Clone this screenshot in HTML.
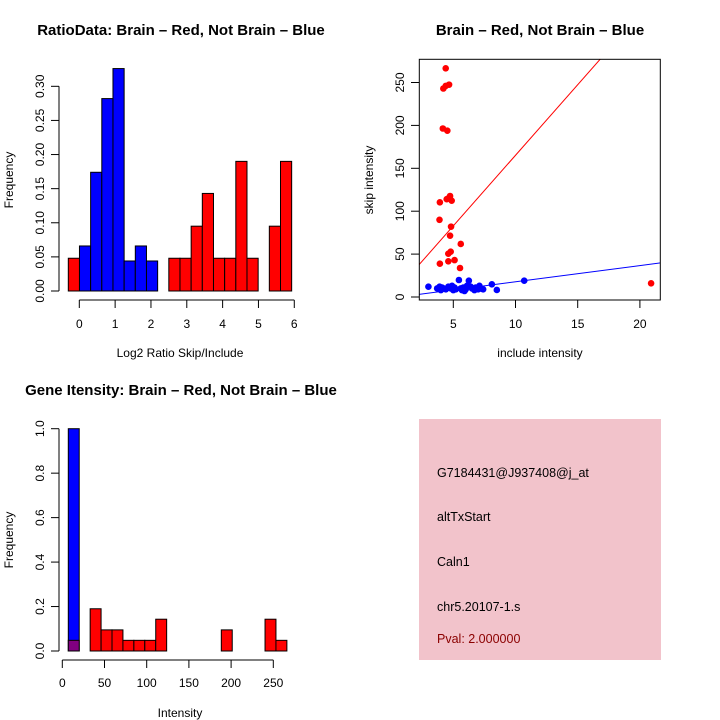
<!DOCTYPE html>
<html><head><meta charset="utf-8"><style>
html,body{margin:0;padding:0;background:#fff;}
svg{display:block;font-family:"Liberation Sans",sans-serif;}
</style></head><body>
<svg id="c" width="720" height="720" viewBox="0 0 720 720">
<rect width="720" height="720" fill="#fff"/>
<g id="p1"></g>
<g id="p2"></g>
<g id="p3"></g>
<g id="p4">
<rect x="419" y="419" width="242" height="241" fill="#f2c3cb"/>
<text x="437" y="477" font-size="12.5">G7184431@J937408@j_at</text>
<text x="437" y="521" font-size="12.5">altTxStart</text>
<text x="437" y="566" font-size="12.5">Caln1</text>
<text x="437" y="611" font-size="12.5">chr5.20107-1.s</text>
<text x="437" y="643" font-size="12.5" fill="#8b0000">Pval: 2.000000</text>
</g>
</svg>
<script>
// ---- Plot 1 data ----
const ratioBinStart = -0.307;
const ratioBinWidth = 0.3117;
const ratioValues = [0.048,0.066,0.174,0.282,0.326,0.044,0.066,0.044,0,0.048,0.048,0.095,0.143,0.048,0.048,0.19,0.048,0,0.095,0.19];
const ratioColors = ["red","blue","blue","blue","blue","blue","blue","blue","none","red","red","red","red","red","red","red","red","none","red","red"];
const ratioXTicks = [0,1,2,3,4,5,6];
const ratioYTicks = ["0.00","0.05","0.10","0.15","0.20","0.25","0.30"];
// ---- Plot 2 data ----
const redX = [4.39,4.2,4.39,4.66,4.16,4.52,3.92,3.89,4.6,4.74,4.87,4.47,4.82,4.74,5.6,4.79,4.6,3.92,4.6,5.1,5.54,20.9];
const redY = [266.5,243,246,247.5,196.4,193.8,110.4,90,115,117.7,112.3,114,82,71.5,61.8,52.8,50.5,38.8,41.6,43,33.8,16];
const blueX = [3.0,3.7,3.9,4.0,4.1,4.2,4.4,4.6,4.7,4.8,4.9,5.0,5.1,5.2,5.45,5.6,5.7,5.8,5.9,6.0,6.1,6.25,6.4,6.5,6.7,6.8,7.0,7.1,7.2,7.4,8.1,8.5,10.7,3.9,4.8];
const blueY = [12,10,12,8,11,10,9,12,11,10,13,8,11,9,19.8,10,8,11,7,9,13,19,12,10,8,11,9,13,10,9,14.8,8.2,19,11,12];
const redFit = [0.65, 16.45];
const blueFit = [-1.2, 1.89];
const scatXTicks = [5,10,15,20];
const scatYTicks = [0,50,100,150,200,250];
// ---- Plot 3 data ----
const geneBinStart = 7.1;
const geneBinWidth = 12.95;
const geneBlue = [1.0,0,0,0,0,0,0,0,0,0,0,0,0,0,0,0,0,0,0,0];
const geneRed = [0.048,0,0.19,0.095,0.095,0.048,0.048,0.048,0.143,0,0,0,0,0,0.095,0,0,0,0.143,0.048];
const geneXTicks = [0,50,100,150,200,250];
const geneYTicks = ["0.0","0.2","0.4","0.6","0.8","1.0"];

const NS="http://www.w3.org/2000/svg";
function mk(parent,tag,attrs,text){const e=document.createElementNS(NS,tag);for(const k in attrs)e.setAttribute(k,attrs[k]);if(text!==undefined)e.textContent=text;parent.appendChild(e);return e;}

// ---- Plot 1 ----
(function(){
const g=document.getElementById('p1');
const sx=v=>79.3+v*35.83, sy=v=>291-v*682.3;
ratioValues.forEach((v,i)=>{ if(ratioColors[i]==="none")return;
 const x0=sx(ratioBinStart+i*ratioBinWidth), x1=sx(ratioBinStart+(i+1)*ratioBinWidth);
 const r=mk(g,'rect',{x:x0,y:sy(v),width:x1-x0,height:sy(0)-sy(v),fill:ratioColors[i],stroke:'#000','stroke-width':1});
 
 
});
mk(g,'line',{x1:sx(0),x2:sx(6),y1:300,y2:300,stroke:'#000'});
ratioXTicks.forEach(t=>{mk(g,'line',{x1:sx(t),x2:sx(t),y1:300,y2:308,stroke:'#000'});
 const l=mk(g,'text',{x:sx(t),y:328,'font-size':12,'text-anchor':'middle'},t);
 
 });
mk(g,'line',{x1:59,x2:59,y1:sy(0),y2:sy(0.30),stroke:'#000'});
ratioYTicks.forEach(t=>{const y=sy(parseFloat(t));mk(g,'line',{x1:51,x2:59,y1:y,y2:y,stroke:'#000'});
 const l=mk(g,'text',{x:0,y:0,'font-size':12,'text-anchor':'middle',transform:`translate(44,${y}) rotate(-90)`},t);
 
 });
const t1=mk(g,'text',{x:181,y:35,'font-size':15,'font-weight':'bold','text-anchor':'middle'},'RatioData: Brain – Red, Not Brain – Blue');


const xa=mk(g,'text',{x:180,y:357,'font-size':12,'text-anchor':'middle'},'Log2 Ratio Skip/Include');


const ya=mk(g,'text',{x:0,y:0,'font-size':12,'text-anchor':'middle',transform:'translate(13,180) rotate(-90)'},'Frequency');


})();

// ---- Plot 2 ----
(function(){
const g=document.getElementById('p2');
const sx=v=>391.1+v*12.44, sy=v=>297-v*0.858;
const cp=mk(g,'clipPath',{id:'clip2'});mk(cp,'rect',{x:419.3,y:59.3,width:241,height:240.7});
const lg=mk(g,'g',{'clip-path':'url(#clip2)'});
const rl=mk(lg,'line',{x1:sx(0),y1:sy(redFit[0]),x2:sx(25),y2:sy(redFit[0]+redFit[1]*25),stroke:'red','stroke-width':1});


const bl=mk(lg,'line',{x1:sx(0),y1:sy(blueFit[0]),x2:sx(25),y2:sy(blueFit[0]+blueFit[1]*25),stroke:'blue','stroke-width':1});


redX.forEach((x,i)=>{const c=mk(g,'circle',{cx:sx(x),cy:sy(redY[i]),r:3.3,fill:'red'});
 
 });
blueX.forEach((x,i)=>{const c=mk(g,'circle',{cx:sx(x),cy:sy(blueY[i]),r:3.3,fill:'blue'});
 
 });
mk(g,'rect',{x:419.3,y:59.3,width:241,height:240.7,fill:'none',stroke:'#000'});
scatXTicks.forEach(t=>{mk(g,'line',{x1:sx(t),x2:sx(t),y1:300,y2:308,stroke:'#000'});
 const l=mk(g,'text',{x:sx(t),y:328,'font-size':12,'text-anchor':'middle'},t);
 
 });
scatYTicks.forEach(t=>{const y=sy(t);mk(g,'line',{x1:411,x2:419.3,y1:y,y2:y,stroke:'#000'});
 const l=mk(g,'text',{x:0,y:0,'font-size':12,'text-anchor':'middle',transform:`translate(404,${y}) rotate(-90)`},t);
 
 });
const t1=mk(g,'text',{x:540,y:35,'font-size':15,'font-weight':'bold','text-anchor':'middle'},'Brain – Red, Not Brain – Blue');


const xa=mk(g,'text',{x:540,y:357,'font-size':12,'text-anchor':'middle'},'include intensity');


const ya=mk(g,'text',{x:0,y:0,'font-size':12,'text-anchor':'middle',transform:'translate(373,180) rotate(-90)'},'skip intensity');


})();

// ---- Plot 3 ----
(function(){
const g=document.getElementById('p3');
const sx=v=>62.3+v*0.844, sy=v=>651-v*222.3;
geneBlue.forEach((v,i)=>{ if(v<=0)return;
 const x0=sx(geneBinStart+i*geneBinWidth), x1=sx(geneBinStart+(i+1)*geneBinWidth);
 const r=mk(g,'rect',{x:x0,y:sy(v),width:x1-x0,height:sy(0)-sy(v),fill:'blue',stroke:'#000'});
 
 });
geneRed.forEach((v,i)=>{ if(v<=0)return;
 const x0=sx(geneBinStart+i*geneBinWidth), x1=sx(geneBinStart+(i+1)*geneBinWidth);
 const ov=geneBlue[i]>0;
 const r=mk(g,'rect',{x:x0,y:sy(v),width:x1-x0,height:sy(0)-sy(v),fill:ov?'#800080':'red',stroke:'#000'});
 
 });
mk(g,'line',{x1:sx(0),x2:sx(250),y1:660,y2:660,stroke:'#000'});
geneXTicks.forEach(t=>{mk(g,'line',{x1:sx(t),x2:sx(t),y1:660,y2:668,stroke:'#000'});
 const l=mk(g,'text',{x:sx(t),y:687,'font-size':12,'text-anchor':'middle'},t);
 
 });
mk(g,'line',{x1:59,x2:59,y1:sy(0),y2:sy(1),stroke:'#000'});
geneYTicks.forEach(t=>{const y=sy(parseFloat(t));mk(g,'line',{x1:51,x2:59,y1:y,y2:y,stroke:'#000'});
 const l=mk(g,'text',{x:0,y:0,'font-size':12,'text-anchor':'middle',transform:`translate(44,${y}) rotate(-90)`},t);
 
 });
const t1=mk(g,'text',{x:181,y:395,'font-size':15,'font-weight':'bold','text-anchor':'middle'},'Gene Itensity: Brain – Red, Not Brain – Blue');


const xa=mk(g,'text',{x:180,y:717,'font-size':12,'text-anchor':'middle'},'Intensity');


const ya=mk(g,'text',{x:0,y:0,'font-size':12,'text-anchor':'middle',transform:'translate(13,540) rotate(-90)'},'Frequency');


})();
</script>
</body></html>
